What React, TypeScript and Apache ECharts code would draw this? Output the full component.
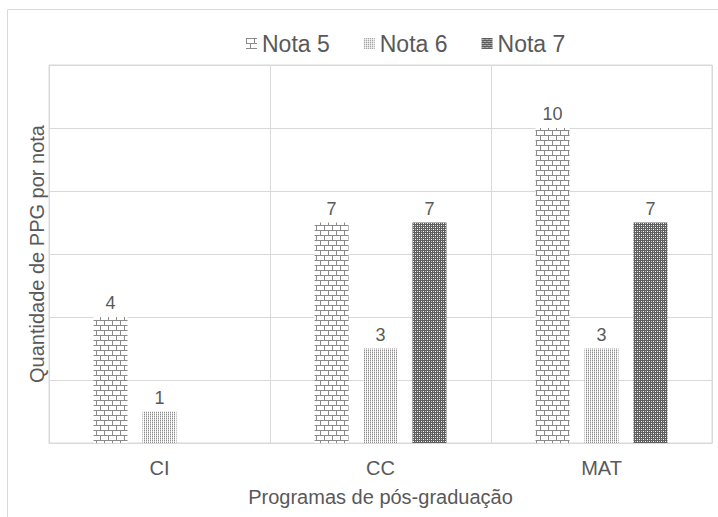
import React, { useEffect, useRef } from "react";
import * as echarts from "echarts";

const categories = ["CI", "CC", "MAT"];
const seriesNames = ["Nota 5", "Nota 6", "Nota 7"];
const nota5 = [4, 7, 10];
const nota6 = [1, 3, 3];
const nota7 = [0, 7, 7];

const FONT = "'Liberation Sans', Arial, sans-serif";
const TEXT = "#595959";
const GRID = "#d9d9d9";

function makeTile(w: number, h: number, draw: (ctx: CanvasRenderingContext2D) => void) {
  const c = document.createElement("canvas");
  c.width = w;
  c.height = h;
  const ctx = c.getContext("2d")!;
  ctx.fillStyle = "#ffffff";
  ctx.fillRect(0, 0, w, h);
  draw(ctx);
  return c;
}

export default function App() {
  const ref = useRef<HTMLDivElement>(null);
  useEffect(() => {
    if (!ref.current) return;
    const chart = echarts.init(ref.current, undefined, { renderer: "svg" });

    const brick = makeTile(8, 10, (ctx) => {
      ctx.fillStyle = "#8a8a8a";
      ctx.fillRect(0, 0, 8, 1);
      ctx.fillRect(0, 5, 8, 1);
      ctx.fillRect(0, 1, 1, 4);
      ctx.fillRect(4, 6, 1, 4);
    });
    const dots = makeTile(2, 2, (ctx) => {
      ctx.fillStyle = "#8c8c8c";
      ctx.fillRect(0, 0, 1, 1);
      ctx.fillStyle = "#cccccc";
      ctx.fillRect(0, 1, 1, 1);
    });
    const dark = makeTile(4, 4, (ctx) => {
      ctx.fillStyle = "#5e5e5e";
      ctx.fillRect(0, 0, 4, 4);
      ctx.fillStyle = "#ffffff";
      ctx.fillRect(1, 1, 1, 1);
      ctx.fillRect(3, 3, 1, 1);
      ctx.fillStyle = "#bdbdbd";
      ctx.fillRect(3, 1, 1, 1);
      ctx.fillRect(1, 3, 1, 1);
    });
    const patterns = [brick, dots, dark];
    const values = [nota5, nota6, nota7];

    chart.setOption({
      animation: false,
      backgroundColor: "#ffffff",
      textStyle: { fontFamily: FONT },
      graphic: [
        {
          type: "rect",
          shape: { x: 7.5, y: 9.5, width: 800, height: 600 },
          style: { fill: "none", stroke: GRID, lineWidth: 1 },
          silent: true,
          z: -1,
        },
      ],
      legend: {
        data: seriesNames,
        left: 241,
        top: 27,
        icon: "rect",
        itemWidth: 11,
        itemHeight: 11,
        itemGap: 34,
        textStyle: { color: TEXT, fontSize: 23, fontFamily: FONT },
      },
      grid: {
        left: 49,
        right: 6,
        top: 65,
        bottom: 74,
        show: true,
        borderColor: GRID,
        borderWidth: 1,
        containLabel: false,
      },
      xAxis: {
        type: "category",
        data: categories,
        name: "Programas de pós-graduação",
        nameLocation: "middle",
        nameGap: 44,
        nameTextStyle: { color: TEXT, fontSize: 20, fontFamily: FONT },
        axisLine: { show: true, lineStyle: { color: GRID } },
        axisTick: { show: false },
        axisLabel: { color: TEXT, fontSize: 20, margin: 15, fontFamily: FONT },
        splitLine: { show: true, lineStyle: { color: GRID } },
      },
      yAxis: {
        type: "value",
        min: 0,
        max: 12,
        interval: 2,
        name: "Quantidade de PPG por nota",
        nameLocation: "middle",
        nameGap: 2,
        nameTextStyle: { color: TEXT, fontSize: 20, fontFamily: FONT },
        axisLine: { show: false },
        axisTick: { show: false },
        axisLabel: { show: false },
        splitLine: { show: true, lineStyle: { color: GRID } },
      },
      series: seriesNames.map((name, i) => ({
        name,
        type: "bar",
        data: values[i],
        barWidth: 34,
        barGap: "44%",
        itemStyle: {
          color: { image: patterns[i], repeat: "repeat" },
        },
        label: {
          show: true,
          position: "top",
          distance: 5,
          color: TEXT,
          fontSize: 18,
          fontFamily: FONT,
          formatter: (p: any) => (p.value ? String(p.value) : ""),
        },
      })),
    });
    return () => chart.dispose();
  }, []);
  return (
    <div
      ref={ref}
      style={{ position: "fixed", left: 0, top: 0, width: 718, height: 517 }}
    />
  );
}
